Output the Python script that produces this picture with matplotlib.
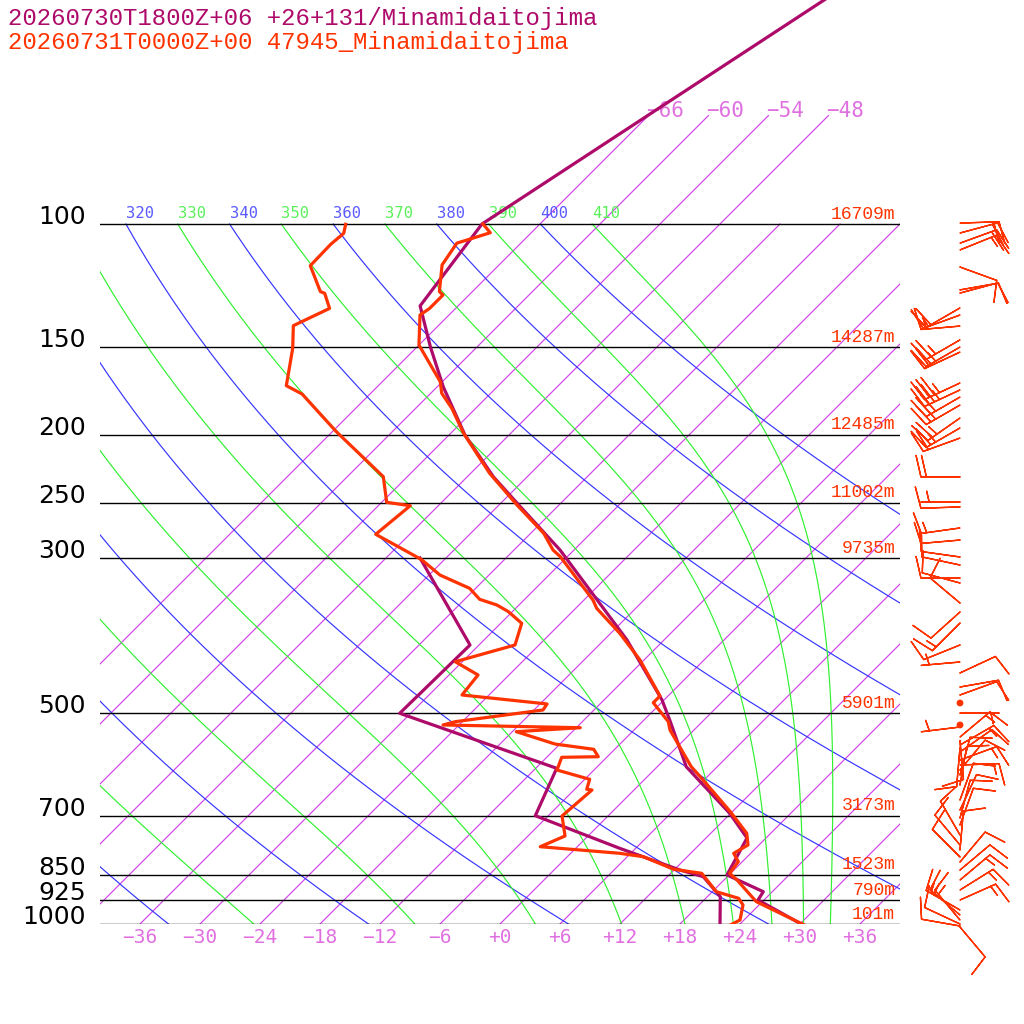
import numpy as np
import matplotlib
matplotlib.use("Agg")
import matplotlib.pyplot as plt

# model sounding (+26h forecast), purple
mod_p = [30, 100, 130.9, 149.7, 170.8, 200.2, 229.6, 253.4, 292.2, 392.9, 478.6,
         514.0, 596.1, 694.8, 753.6, 851.1, 899.2, 924.1, 1003.3]
mod_t = [-52.5, -71.8, -69.8, -64.7, -59.4, -52.4, -45.4, -39.7, -31.4, -15.7, -6.2,
         -3.2, 2.9, 11.9, 16.1, 17.8, 23.1, 23.4, 30.4]
mod_dp = [300.0, 399.4, 500.0, 599.2, 700.3, 779.6, 837.3, 855.9, 914.1, 1003.3]
mod_td = [-44.6, -30.9, -31.1, -9.9, -7.3, 4.4, 12.6, 15.6, 19.3, 22.1]

# observed sounding 47945, red
obs_p = [100, 102.9, 106.5, 114.4, 124.9, 126.3, 132.0, 134.9, 148.9, 168.0, 174.5,
         183.3, 199.1, 227.1, 252.0, 276.6, 292.2, 298.7, 344.5, 354.0, 384.3, 419.6,
         472.4, 482.9, 514.0, 528.3, 596.1, 616.0, 691.1, 742.0, 771.1, 792.5, 814.6,
         846.4, 865.3, 929.2, 1008.3]
obs_t = [-71.7, -70.1, -72.4, -71.7, -69.3, -68.6, -68.6, -68.9, -66.0, -60.2, -58.9,
         -56.4, -52.7, -46.1, -40.2, -34.7, -32.1, -30.7, -23.1, -21.9, -17.1, -12.4,
         -6.8, -6.8, -3.4, -2.4, 3.4, 5.3, 11.8, 15.6, 16.9, 16.3, 17.6,
         17.9, 19.3, 23.4, 31.0]
obs_dp = [100.1, 103.1, 106.9, 114.7, 124.9, 125.6, 132.0, 139.7, 150.5, 170.2, 174.9,
          198.0, 229.6, 249.8, 252.6, 277.5, 298.7, 302.0, 317.3, 331.5, 343.7, 350.2,
          357.9, 371.9, 399.4, 422.0, 440.8, 470.8, 484.9, 494.6, 514.0, 519.6, 524.3,
          531.2, 553.2, 562.9, 576.8, 577.9, 602.6, 621.3, 642.0, 643.5, 700.9, 748.6,
          775.5, 792.5, 801.4, 835.3, 846.4, 899.2, 919.0, 939.4, 986.9, 1008.3]
obs_td = [-85.4, -84.7, -84.9, -84.8, -81.2, -80.6, -78.6, -80.5, -78.3, -75.2, -72.8,
          -65.6, -56.4, -53.5, -50.8, -51.4, -45.1, -44.2, -40.9, -36.6, -34.5, -32.2,
          -30.4, -27.9, -26.4, -30.7, -27.1, -26.7, -17.3, -17.1, -24.7, -25.6, -11.6,
          -17.6, -12.5, -8.1, -6.9, -10.5, -9.7, -5.5, -4.8, -4.2, -4.6, -2.3,
          -3.7, 4.9, 7.6, 11.9, 15.1, 18.4, 21.3, 22.4, 23.6, 23.0]

# observed winds: pressure (hPa), direction (deg), speed (kt)
wind_p = [99.7, 103.0, 106.5, 108.9, 115.2, 124.2, 125.5, 131.8, 134.9, 139.9,
          146.4, 149.9, 152.4, 168.7, 172.6, 176.7, 181.4, 189.3, 195.6, 202.2,
          229.8, 249.5, 253.6, 271.8, 282.8, 299.0, 307.0, 320.4, 325.7, 347.9,
          358.3, 371.6, 399.4, 422.4, 437.9, 458.6, 470.8, 483.4, 499.6, 519.6,
          523.1, 540.6, 547.0, 555.0, 560.0, 567.9, 583.0, 592.7, 602.6, 612.6,
          633.0, 665.0, 687.3, 705.6, 722.0, 746.2, 771.1, 783.9, 802.2, 815.5,
          837.3, 865.3, 894.2, 924.1, 955.0, 970.8, 986.9, 1000.0, 1006.6, 1009.9]
wind_dir = [88, 75, 70, 68, 110, 80, 75, 240, 250, 265,
            240, 240, 245, 245, 245, 240, 240, 235, 240, 250,
            270, 270, 268, 262, 265, 278, 282, 270, 285, 310,
            228, 225, 248, 265, 65, 80, 70, 0, 90, 0,
            263, 50, 175, 60, 185, 55, 70, 88, 40, 15,
            10, 20, 25, 15, 20, 330, 320, 5, 315, 40,
            50, 50, 58, 66, 300, 310, 320, 295, 280, 140]
wind_spd = [20, 20, 20, 15, 10, 10, 10, 20, 15, 15,
            25, 25, 20, 35, 35, 30, 30, 25, 25, 20,
            20, 5, 10, 15, 10, 10, 10, 10, 10, 10,
            10, 15, 10, 5, 10, 10, 10, 0, 5, 0,
            5, 15, 10, 15, 10, 10, 15, 15, 10, 10,
            10, 10, 10, 10, 10, 10, 10, 10, 10, 10,
            10, 15, 15, 15, 15, 15, 15, 10, 10, 10]

plevels = [100, 150, 200, 250, 300, 500, 700, 850, 925, 1000]
heights = ["16709m", "14287m", "12485m", "11002m", "9735m", "5901m",
           "3173m", "1523m", "790m", "101m"]
title_model = "20260730T1800Z+06 +26+131/Minamidaitojima"
title_obs = "20260731T0000Z+00 47945_Minamidaitojima"

MOD = "#ad0a6a"
OBS = "#ff3300"
ISO = "#d040e8"
SKEW = 30.4          # 45 degree isotherms
P_TOP = 1000 * np.exp(-924 / 304)


def skew(t, p):
    return np.asarray(t, float) + SKEW * np.log(1000.0 / np.asarray(p, float))


def dtdp(p, t):
    tc = t - 273.15
    es = 6.112 * np.exp(17.67 * tc / (tc + 243.5))
    rs = 0.622 * es / (p - es)
    return (287.04 * t + 2.501e6 * rs) / (p * (1005.7 + 2.501e6 ** 2 * rs * 0.622 / (287.04 * t ** 2)))


def moist(theta, pp):
    t = [theta * (pp[0] / 1000) ** 0.2857]
    for p0, p1 in zip(pp[:-1], pp[1:]):
        h = p1 - p0
        y = t[-1]
        k1 = dtdp(p0, y)
        k2 = dtdp(p0 + h / 2, y + h / 2 * k1)
        k3 = dtdp(p0 + h / 2, y + h / 2 * k2)
        k4 = dtdp(p1, y + h * k3)
        t.append(y + h / 6 * (k1 + 2 * k2 + 2 * k3 + k4))
    return np.array(t) - 273.15


fig = plt.figure(figsize=(10.24, 10.24), dpi=100)
ax = fig.add_axes([100 / 1024, 100 / 1024, 800 / 1024, 924 / 1024])
ax.set_yscale("log")
ax.set_ylim(1000, P_TOP)
ax.set_xlim(-40, 40)
ax.axis("off")

pp = np.geomspace(100, 1000, 181)
GRID_LW = 0.85

# isotherms
for t in range(-66, 37, 6):
    ptop = 70 if t <= -48 else 100
    ends = np.array([1000, ptop])
    ax.plot(skew([t, t], ends), ends, color=ISO, lw=GRID_LW, zorder=1)
    if t <= -48:
        ax.text(skew(t, 70) - 0.2, 70.3, "\u2212%d" % -t, color="#e070e0", fontsize=15,
                family="DejaVu Sans Mono", ha="left", va="baseline", clip_on=True)
    if t >= -36:
        lab = ("+%d" % t) if t >= 0 else ("\u2212%d" % -t)
        ax.text(t, -0.0145, lab, transform=ax.get_xaxis_transform(), color="#e070e0",
                fontsize=14, family="DejaVu Sans Mono", ha="center", va="center")

# dry adiabats (blue) and moist adiabats (green)
for th in range(240, 401, 20):
    tt = th * (pp / 1000) ** 0.2857 - 273.15
    ax.plot(skew(tt, pp), pp, color="#3535ff", lw=GRID_LW, zorder=1)
    ax.annotate(str(th), (skew(tt[0], 100), 100), xytext=(0, 2), textcoords="offset points",
                color="#5a5aff", fontsize=11.2, family="DejaVu Sans Mono",
                ha="left", va="bottom", clip_on=True)
for th in range(250, 411, 20):
    tt = moist(th, pp)
    ax.plot(skew(tt, pp), pp, color="#30f030", lw=GRID_LW, zorder=1)
    ax.annotate(str(th), (skew(tt[0], 100), 100), xytext=(0, 2), textcoords="offset points",
                color="#5af05a", fontsize=11.2, family="DejaVu Sans Mono",
                ha="left", va="bottom", clip_on=True)

# pressure levels
ytr = ax.get_yaxis_transform()
for p, h in zip(plevels, heights):
    ax.axhline(p, color="black", lw=1.0, zorder=2)
    ax.text(-0.0175, p, str(p), transform=ytr, fontsize=18, family="DejaVu Sans",
            ha="right", va="baseline", color="black")
    ax.annotate(h, (0.994, p), xycoords=ytr, xytext=(0, 1.0), textcoords="offset points",
                fontsize=13, family="Liberation Mono", color=OBS, ha="right", va="bottom")

# soundings
ax.plot(skew(mod_t, mod_p), mod_p, color=MOD, lw=2.3, zorder=4)
ax.plot(skew(mod_td, mod_dp), mod_dp, color=MOD, lw=2.3, zorder=4)
ax.plot(skew(obs_t, obs_p), obs_p, color=OBS, lw=2.3, zorder=5)
ax.plot(skew(obs_td, obs_dp), obs_dp, color=OBS, lw=2.3, zorder=5)

# wind barbs
wd = np.radians(wind_dir)
spd = np.array(wind_spd, float)
u = -spd * np.sin(wd)
v = -spd * np.cos(wd)
ax.barbs(np.full(len(wind_p), 46.0), wind_p, u, v, length=7.5, color=OBS,
         linewidth=1.0, clip_on=False, fill_empty=True,
         sizes=dict(emptybarb=0.07, height=0.55, spacing=0.14, width=0.25), zorder=6)

fig.text(8 / 1024, 1 - 25 / 1024, title_model, color=MOD, fontsize=17.3,
         family="Liberation Mono", va="baseline", ha="left")
fig.text(8 / 1024, 1 - 49 / 1024, title_obs, color=OBS, fontsize=17.3,
         family="Liberation Mono", va="baseline", ha="left")

fig.savefig("out.png", dpi=100, facecolor="white")
